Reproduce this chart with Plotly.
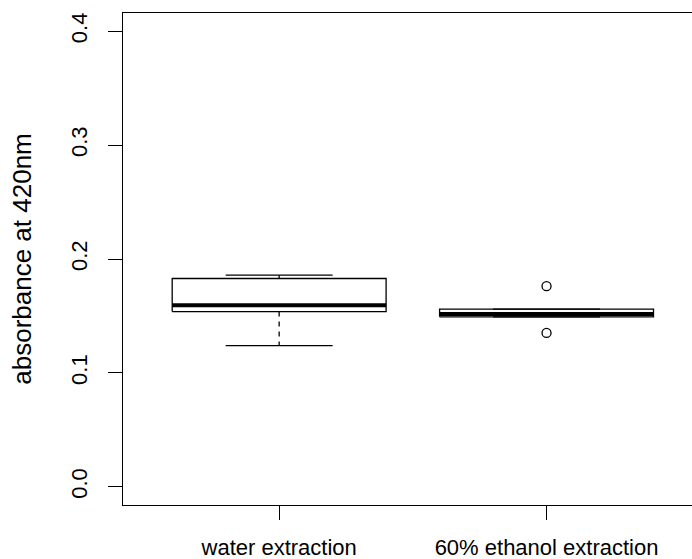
import plotly.graph_objects as go

# ---- data ----
groups = ["water extraction", "60% ethanol extraction"]
positions = [1, 2]
lower_whisker = [0.1240, 0.1492]
q1 = [0.1538, 0.1492]
median = [0.1594, 0.1516]
q3 = [0.1829, 0.1559]
upper_whisker = [0.1858, 0.1559]
outliers = [[], [0.1761, 0.1351]]
y_ticks = [0.0, 0.1, 0.2, 0.3, 0.4]
y_title = "absorbance at 420nm"

# ---- style ----
BOX_W = 0.8
CAP_W = 0.4
FONT = "Arial, Liberation Sans, sans-serif"
FS = 22

fig = go.Figure()
for i, x in enumerate(positions):
    hw = BOX_W / 2
    cw = CAP_W / 2
    # whiskers (dashed)
    fig.add_trace(go.Scatter(
        x=[x, x, None, x, x],
        y=[q3[i], upper_whisker[i], None, q1[i], lower_whisker[i]],
        mode="lines", line=dict(color="black", width=1.3, dash="5px,5px"),
        showlegend=False, hoverinfo="skip"))
    # caps
    fig.add_trace(go.Scatter(
        x=[x - cw, x + cw, None, x - cw, x + cw],
        y=[upper_whisker[i], upper_whisker[i], None, lower_whisker[i], lower_whisker[i]],
        mode="lines", line=dict(color="black", width=1.3),
        showlegend=False, hoverinfo="skip"))
    # box
    fig.add_trace(go.Scatter(
        x=[x - hw, x + hw, x + hw, x - hw, x - hw],
        y=[q1[i], q1[i], q3[i], q3[i], q1[i]],
        mode="lines", line=dict(color="black", width=1.3),
        fill="toself", fillcolor="rgba(255,255,255,0)",
        showlegend=False, hoverinfo="skip"))
    # median
    fig.add_trace(go.Scatter(
        x=[x - hw, x + hw], y=[median[i], median[i]],
        mode="lines", line=dict(color="black", width=4),
        showlegend=False, hoverinfo="skip"))
    # outliers
    if outliers[i]:
        fig.add_trace(go.Scatter(
            x=[x] * len(outliers[i]), y=outliers[i], mode="markers",
            marker=dict(symbol="circle-open", size=9, color="black",
                        line=dict(width=1.3)),
            showlegend=False, hoverinfo="skip"))

fig.update_layout(
    width=692, height=559,
    margin=dict(l=123, r=0, t=13, b=54),
    paper_bgcolor="white", plot_bgcolor="white",
    font=dict(family=FONT, size=FS, color="black"),
)
fig.update_xaxes(
    range=[0.416, 2.544], tickvals=positions, ticktext=groups,
    showgrid=False, zeroline=False,
    showline=True, mirror=True, linecolor="black", linewidth=1.3,
    ticks="outside", ticklen=14, tickcolor="black", tickwidth=1.3,
    ticklabelstandoff=8,
)
fig.update_yaxes(
    range=[-0.016, 0.416], tickvals=y_ticks,
    ticktext=[f"{v:.1f}" for v in y_ticks],
    showgrid=False, zeroline=False,
    showline=True, mirror=False, linecolor="black", linewidth=1.3,
    ticks="outside", ticklen=14, tickcolor="black", tickwidth=1.3,
    tickangle=-90, ticklabelstandoff=12,
    title=dict(text=y_title, standoff=27),
)

fig.write_html("out.html")
